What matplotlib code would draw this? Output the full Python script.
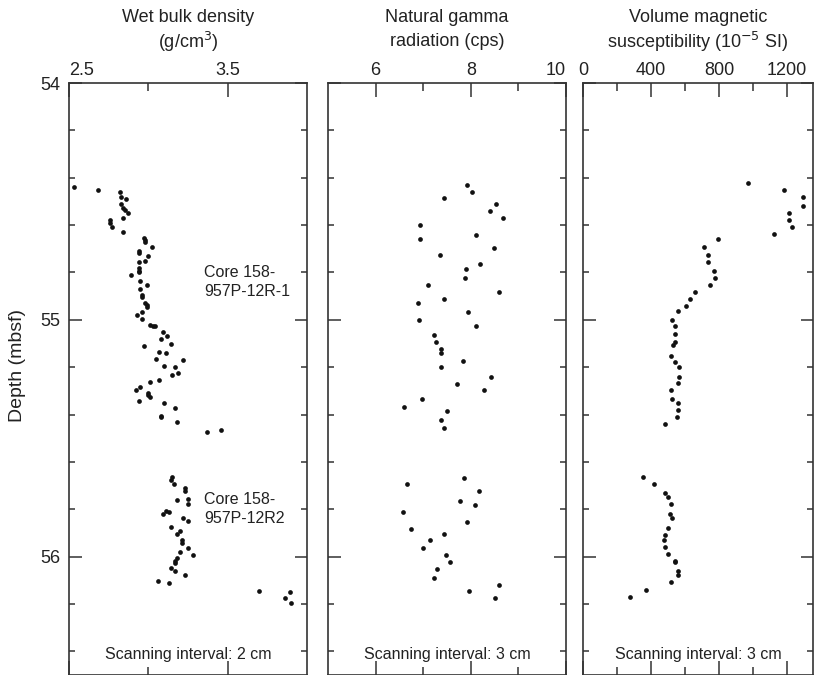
import matplotlib
matplotlib.use("Agg")
import matplotlib.pyplot as plt
from matplotlib.ticker import FixedLocator

plt.rcParams['font.family'] = ['Liberation Sans', 'DejaVu Sans']

# ---- Data ----
density_depth = [54.440, 54.451, 54.459, 54.482, 54.488, 54.511, 54.526, 54.536, 54.550, 54.571,
                 54.578, 54.592, 54.606, 54.629, 54.653, 54.662, 54.670, 54.693, 54.709, 54.716,
                 54.729, 54.750, 54.757, 54.782, 54.793, 54.800, 54.810, 54.838, 54.854, 54.869,
                 54.895, 54.902, 54.930, 54.937, 54.944, 54.965, 54.979, 54.997, 55.021, 55.025,
                 55.028, 55.052, 55.070, 55.083, 55.101, 55.110, 55.134, 55.141, 55.165, 55.170,
                 55.193, 55.200, 55.224, 55.235, 55.253, 55.263, 55.283, 55.295, 55.309, 55.318,
                 55.326, 55.341, 55.353, 55.371, 55.405, 55.412, 55.433, 55.473, 55.465,
                 55.664, 55.675, 55.692, 55.710, 55.722, 55.762, 55.755, 55.778, 55.820, 55.806,
                 55.811, 55.838, 55.849, 55.873, 55.903, 55.893, 55.932, 55.942, 55.962, 55.980,
                 55.992, 56.008, 56.017, 56.027, 56.049, 56.062, 56.079, 56.103, 56.110, 56.145,
                 56.149, 56.174, 56.194]
density = [2.53, 2.68, 2.82, 2.83, 2.86, 2.83, 2.84, 2.85, 2.87, 2.84,
           2.76, 2.76, 2.77, 2.84, 2.97, 2.98, 2.98, 3.02, 2.94, 2.94,
           3.00, 2.98, 2.94, 2.94, 2.94, 2.94, 2.89, 2.95, 2.99, 2.95,
           2.96, 2.96, 2.98, 2.99, 2.99, 2.96, 2.93, 2.96, 3.01, 3.03,
           3.04, 3.09, 3.12, 3.08, 3.14, 2.97, 3.07, 3.11, 3.05, 3.22,
           3.10, 3.17, 3.19, 3.15, 3.07, 3.01, 2.95, 2.92, 3.00, 3.00,
           3.01, 2.94, 3.10, 3.17, 3.08, 3.08, 3.18, 3.37, 3.46,
           3.15, 3.14, 3.16, 3.23, 3.23, 3.18, 3.25, 3.25, 3.09, 3.11,
           3.13, 3.22, 3.25, 3.14, 3.18, 3.20, 3.21, 3.21, 3.25, 3.20,
           3.28, 3.18, 3.17, 3.17, 3.14, 3.17, 3.23, 3.06, 3.13, 3.70,
           3.89, 3.86, 3.90]

gamma_depth = [54.430, 54.460, 54.485, 54.512, 54.540, 54.571, 54.598, 54.658, 54.643, 54.695,
               54.726, 54.765, 54.785, 54.824, 54.854, 54.883, 54.913, 54.931, 54.966, 55.002,
               55.025, 55.065, 55.094, 55.124, 55.142, 55.172, 55.201, 55.243, 55.271, 55.297,
               55.335, 55.367, 55.384, 55.423, 55.456,
               55.667, 55.693, 55.724, 55.765, 55.781, 55.811, 55.852, 55.882, 55.906, 55.932,
               55.963, 55.992, 56.022, 56.052, 56.092, 56.121, 56.145, 56.176]
gamma = [7.91, 8.03, 7.44, 8.52, 8.41, 8.67, 6.94, 6.94, 8.10, 8.48,
         7.35, 8.19, 7.90, 7.87, 7.11, 8.59, 7.43, 6.89, 7.95, 6.91,
         8.10, 7.23, 7.27, 7.38, 7.38, 7.84, 7.38, 8.43, 7.72, 8.28,
         6.97, 6.60, 7.49, 7.38, 7.43,
         7.86, 6.67, 8.18, 7.77, 8.08, 6.58, 7.91, 6.75, 7.43, 7.15,
         6.99, 7.48, 7.56, 7.28, 7.22, 8.59, 7.97, 8.50]

sus_depth = [54.423, 54.451, 54.482, 54.520, 54.550, 54.579, 54.608, 54.638, 54.657, 54.692,
             54.727, 54.757, 54.792, 54.822, 54.852, 54.882, 54.911, 54.941, 54.963, 54.999,
             55.027, 55.062, 55.092, 55.108, 55.151, 55.178, 55.198, 55.241, 55.269, 55.298,
             55.333, 55.351, 55.381, 55.409, 55.440,
             55.662, 55.692, 55.733, 55.750, 55.778, 55.820, 55.837, 55.878, 55.908, 55.930,
             55.961, 55.989, 56.017, 56.021, 56.062, 56.079, 56.107, 56.141, 56.172]
susceptibility = [972, 1184, 1292, 1292, 1213, 1213, 1229, 1122, 796, 712,
                  735, 737, 771, 778, 747, 657, 629, 606, 559, 523,
                  543, 543, 543, 531, 516, 543, 566, 566, 559, 516,
                  523, 559, 559, 551, 484,
                  351, 416, 482, 498, 519, 512, 522, 498, 484, 475,
                  484, 498, 539, 543, 557, 557, 519, 369, 278]

titles = [("Wet bulk density", "(g/cm$^3$)"),
          ("Natural gamma", "radiation (cps)"),
          ("Volume magnetic", "susceptibility (10$^{-5}$ SI)")]
notes = ["Scanning interval: 2 cm", "Scanning interval: 3 cm", "Scanning interval: 3 cm"]
core_labels = ["Core 158-\n957P-12R-1", "Core 158-\n957P-12R2"]

# ---- Layout ----
W, H = 815, 675
fig = plt.figure(figsize=(W / 100, H / 100), dpi=100)
ink = '#222222'

panels_px = [(69, 307), (328, 566), (583, 813)]
top_px, bot_px = 83, 675
xlims = [(2.5, 4.0), (5.0, 10.0), (0, 1353)]
major_x = [[2.5, 3.5], [6, 8, 10], [0, 400, 800, 1200]]
minor_x = [[3.0], [7, 9], [200, 600, 1000]]
xs = [density, gamma, susceptibility]
ys = [density_depth, gamma_depth, sus_depth]

axes = []
for i, (l, r) in enumerate(panels_px):
    ax = fig.add_axes([l / W, 1 - bot_px / H, (r - l) / W, (bot_px - top_px) / H])
    axes.append(ax)
    ax.plot(xs[i], ys[i], 'o', ms=3.4, color='#111111', mec='none')
    ax.set_xlim(*xlims[i])
    ax.set_ylim(56.5, 54.0)
    for sp in ax.spines.values():
        sp.set_linewidth(1.2)
        sp.set_color('#333333')
    ax.xaxis.set_major_locator(FixedLocator(major_x[i]))
    ax.xaxis.set_minor_locator(FixedLocator(minor_x[i]))
    ax.yaxis.set_major_locator(FixedLocator([54, 55, 56]))
    ax.yaxis.set_minor_locator(FixedLocator([54.2, 54.4, 54.6, 54.8, 55.2, 55.4, 55.6, 55.8,
                                             56.2, 56.4]))
    ax.tick_params(axis='x', which='both', direction='in', top=True, bottom=True,
                   labeltop=True, labelbottom=False, colors='#333333', labelcolor=ink,
                   labelsize=13, pad=3)
    ax.tick_params(axis='x', which='major', length=10, width=1.1)
    ax.tick_params(axis='x', which='minor', length=6, width=1.1)
    ax.tick_params(axis='y', which='both', direction='in', left=True, right=True,
                   labelleft=(i == 0), labelright=False, colors='#333333', labelcolor=ink,
                   labelsize=13)
    ax.tick_params(axis='y', which='major', length=9, width=1.1, pad=6)
    ax.tick_params(axis='y', which='minor', length=4, width=1.1)

    cx = (l + r) / 2 / W
    fig.text(cx, 1 - 17 / H, titles[i][0], ha='center', va='center', fontsize=13, color=ink)
    fig.text(cx, 1 - 42 / H, titles[i][1], ha='center', va='center', fontsize=13, color=ink)
    ax.text(0.5, 1 - (655 - top_px) / (bot_px - top_px), notes[i], transform=ax.transAxes,
            ha='center', va='center', fontsize=11.5, color=ink)

# label alignment tweaks
axes[0].get_xticklabels()[0].set_ha('left')
axes[1].get_xticklabels()[-1].set_ha('right')
fig.text(18 / W, 1 - 365 / H, 'Depth (mbsf)', rotation=90, ha='center', va='center',
         fontsize=14, color=ink)

axes[0].text(3.35, 54.84, core_labels[0], ha='left', va='center', fontsize=11.5,
             color=ink, linespacing=1.3)
axes[0].text(3.35, 55.80, core_labels[1], ha='left', va='center', fontsize=11.5,
             color=ink, linespacing=1.3)

fig.savefig('out.png', dpi=100)
